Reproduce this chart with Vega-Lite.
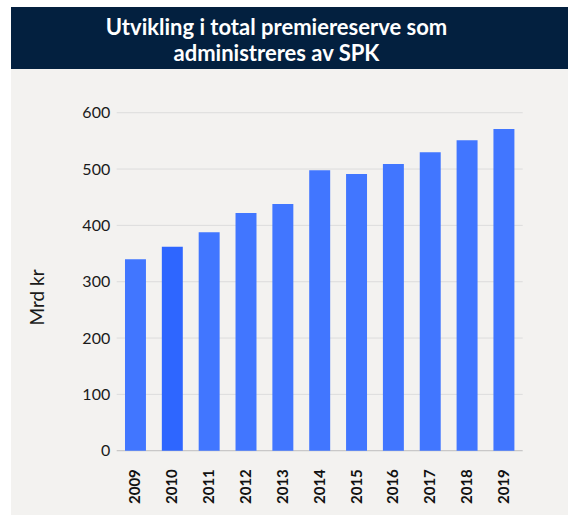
{
  "$schema": "https://vega.github.io/schema/vega-lite/v6.json",
  "background": "white",
  "padding": {"left": 11, "top": 7, "right": 0, "bottom": 0},
  "spacing": 0,
  "config": {"view": {"stroke": null}, "font": "Lato", "concat": {"spacing": 0}},
  "vconcat": [
    {
      "width": 557,
      "height": 62,
      "view": {"fill": "#03203f", "stroke": null},
      "data": {"values": [{"t": 1}]},
      "mark": {
        "type": "text",
        "text": ["Utvikling i total premiereserve som", "administreres av SPK"],
        "font": "Lato",
        "fontSize": 22,
        "fontWeight": "bold",
        "color": "white",
        "lineHeight": 26,
        "align": "center",
        "baseline": "middle",
        "dx": -13,
        "dy": -10
      },
      "encoding": {}
    },
    {
      "width": 557,
      "height": 446,
      "view": {"fill": "#f3f2f0", "stroke": null},
      "encoding": {
        "y": {
          "field": "v",
          "type": "quantitative",
          "scale": {"domain": [-114.1, 677.6], "nice": false, "zero": false},
          "axis": {
            "title": "Mrd kr",
            "values": [0, 100, 200, 300, 400, 500, 600],
            "grid": false,
            "domain": false,
            "ticks": false,
            "tickSize": 0,
            "offset": -105.7,
            "labelPadding": 7,
            "labelFont": "Lato",
            "labelFontSize": 16,
            "labelColor": "#1a1a1a",
            "titleFont": "Lato",
            "titleFontSize": 19,
            "titleFontWeight": "normal",
            "titleColor": "#1a1a1a",
            "titleX": -79.7,
            "titleY": 228,
            "titleAngle": -90,
            "titleAlign": "center",
            "titleBaseline": "middle"
          }
        }
      },
      "layer": [
        {
          "data": {"values": [{"v": 0}, {"v": 100}, {"v": 200}, {"v": 300}, {"v": 400}, {"v": 500}, {"v": 600}]},
          "mark": {"type": "rule", "strokeWidth": 1},
          "encoding": {
            "x": {"datum": 0, "type": "quantitative", "scale": {"domain": [0, 1], "range": [105.7, 511.7]}, "axis": null},
            "x2": {"datum": 1},
            "color": {"condition": {"test": "datum.v === 0", "value": "#bdbdbd"}, "value": "#dcdcdc"}
          }
        },
        {
          "data": {"values": [
            {"year": "2009", "v": 340},
            {"year": "2010", "v": 362},
            {"year": "2011", "v": 388},
            {"year": "2012", "v": 422},
            {"year": "2013", "v": 438},
            {"year": "2014", "v": 498},
            {"year": "2015", "v": 491},
            {"year": "2016", "v": 509},
            {"year": "2017", "v": 530},
            {"year": "2018", "v": 551},
            {"year": "2019", "v": 571}
          ]},
          "mark": {"type": "bar"},
          "encoding": {
            "x": {
              "field": "year",
              "type": "nominal",
              "scale": {"range": [105.7, 511.7], "paddingInner": 0.431, "paddingOuter": 0.225, "round": false},
              "axis": {
                "title": null,
                "labelAngle": -90,
                "labelFont": "Lato",
                "labelFontWeight": "bold",
                "labelFontSize": 15,
                "labelColor": "#111111",
                "ticks": false,
                "tickSize": 0,
                "domain": false,
                "grid": false,
                "offset": -64.3,
                "labelPadding": 18
              }
            },
            "y2": {"datum": 0},
            "color": {"condition": {"test": "datum.year === '2010'", "value": "#2e66ff"}, "value": "#4176ff"}
          }
        }
      ],
      "resolve": {"scale": {"x": "independent"}}
    }
  ]
}
